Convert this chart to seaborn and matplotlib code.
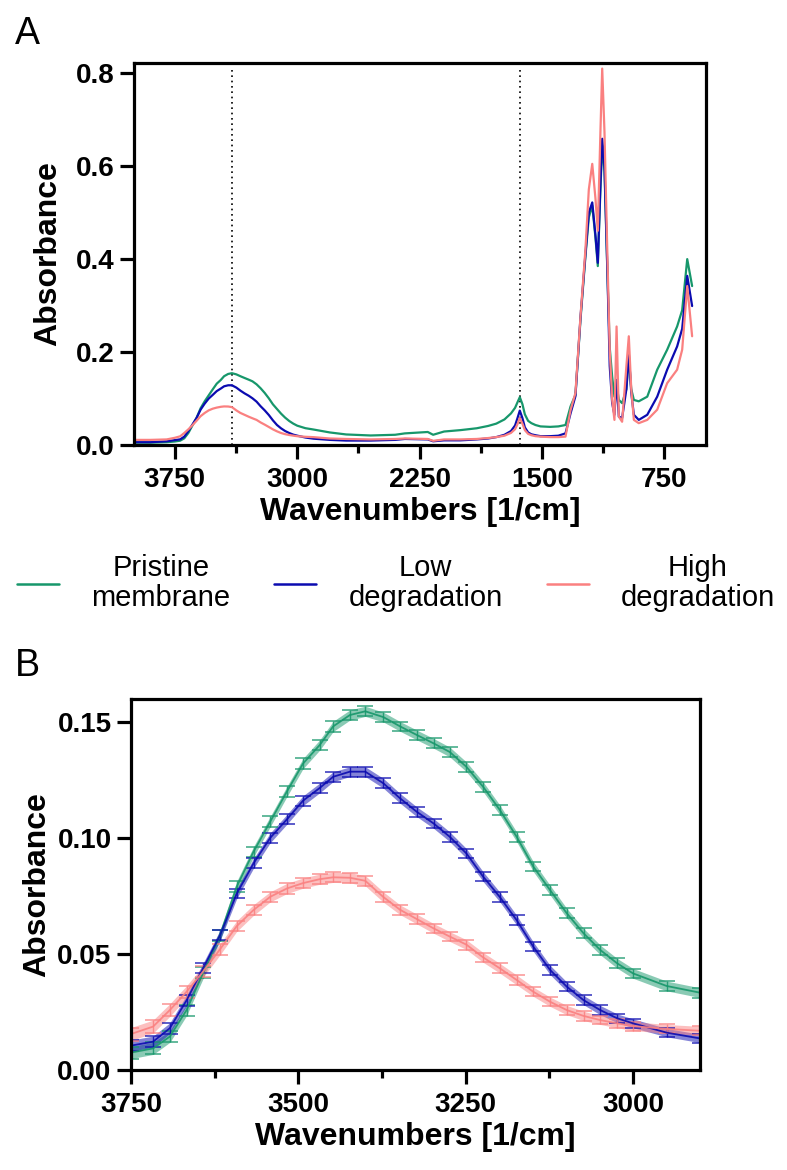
import numpy as np
import pandas as pd
import matplotlib
matplotlib.use("Agg")
import matplotlib.pyplot as plt
import seaborn as sns
from matplotlib.lines import Line2D
from matplotlib.ticker import FixedLocator, FormatStrFormatter
from matplotlib import font_manager

sns.set_style("ticks")
plt.rcParams['font.family'] = ['Liberation Sans', 'DejaVu Sans']
for k in ("text.color", "axes.labelcolor", "xtick.color", "ytick.color", "axes.edgecolor"):
    plt.rcParams[k] = "black"

# ---------------- data ----------------
series_names = ["Pristine\nmembrane", "Low\ndegradation", "High\ndegradation"]
colors = ["#17976b", "#0b0bb0", "#fa8080"]

wavenumber = [4000, 3900, 3800, 3750, 3717, 3692, 3667, 3642, 3617, 3592, 3567, 3542,
              3517, 3493, 3468, 3448, 3423, 3400, 3373, 3348, 3323, 3298, 3274, 3249,
              3224, 3199, 3174, 3149, 3124, 3099, 3074, 3049, 3024, 3000, 2950, 2900,
              2800, 2700, 2550, 2400, 2340, 2200, 2167, 2100, 2000, 1900, 1830, 1780,
              1730, 1690, 1665, 1650, 1636, 1620, 1605, 1585, 1565, 1540, 1509, 1450,
              1400, 1356, 1325, 1295, 1264, 1234, 1213, 1192, 1172, 1158, 1142, 1131,
              1117, 1100, 1085, 1070, 1056, 1043, 1029, 1009, 983, 968, 953, 937,
              907, 855, 794, 733, 672, 641, 610, 580]

pristine = [0.005, 0.005, 0.006, 0.0075, 0.0093, 0.0144, 0.0258, 0.042, 0.058, 0.079, 0.094, 0.107,
            0.120, 0.132, 0.140, 0.148, 0.1529, 0.1545, 0.152, 0.148, 0.1443, 0.1407, 0.137, 0.1306,
            0.122, 0.112, 0.1005, 0.0876, 0.0775, 0.0675, 0.0589, 0.0517, 0.046, 0.0416, 0.0362, 0.0333,
            0.027, 0.0227, 0.0205, 0.022, 0.025, 0.028, 0.022, 0.029, 0.032, 0.036, 0.041, 0.046,
            0.055, 0.068, 0.080, 0.092, 0.103, 0.088, 0.066, 0.052, 0.047, 0.043, 0.040, 0.039,
            0.040, 0.043, 0.083, 0.108, 0.270, 0.405, 0.49, 0.515, 0.445, 0.385, 0.55, 0.645,
            0.59, 0.38, 0.21, 0.147, 0.104, 0.13, 0.097, 0.09, 0.12, 0.19, 0.12, 0.097,
            0.094, 0.104, 0.162, 0.205, 0.255, 0.29, 0.40, 0.342]

low = [0.006, 0.006, 0.008, 0.0105, 0.0122, 0.018, 0.030, 0.044, 0.058, 0.076, 0.089, 0.100,
       0.108, 0.116, 0.1215, 0.1263, 0.1285, 0.1285, 0.1235, 0.117, 0.1112, 0.1062, 0.1005, 0.0933,
       0.0833, 0.0745, 0.0646, 0.0531, 0.0431, 0.0359, 0.0301, 0.0258, 0.0223, 0.0201, 0.0161, 0.0136,
       0.011, 0.0095, 0.0095, 0.011, 0.013, 0.012, 0.008, 0.010, 0.010, 0.012, 0.014, 0.017,
       0.022, 0.030, 0.042, 0.058, 0.074, 0.058, 0.038, 0.027, 0.023, 0.021, 0.019, 0.019,
       0.020, 0.025, 0.068, 0.105, 0.275, 0.41, 0.50, 0.522, 0.45, 0.392, 0.56, 0.659,
       0.60, 0.385, 0.17, 0.09, 0.065, 0.14, 0.061, 0.058, 0.12, 0.198, 0.112, 0.065,
       0.054, 0.065, 0.104, 0.162, 0.212, 0.25, 0.364, 0.299]

high = [0.011, 0.011, 0.012, 0.0155, 0.0187, 0.0258, 0.0337, 0.0425, 0.052, 0.062, 0.0689, 0.0746,
        0.0782, 0.0805, 0.0822, 0.0830, 0.0828, 0.0815, 0.0745, 0.069, 0.0650, 0.0610, 0.0575, 0.054,
        0.0485, 0.0438, 0.0388, 0.0337, 0.0294, 0.0258, 0.0233, 0.0215, 0.0201, 0.0189, 0.0177, 0.0169,
        0.014, 0.013, 0.012, 0.013, 0.014, 0.013, 0.009, 0.012, 0.012, 0.013, 0.015, 0.017,
        0.020, 0.026, 0.034, 0.045, 0.058, 0.046, 0.032, 0.024, 0.021, 0.019, 0.018, 0.017,
        0.017, 0.018, 0.075, 0.112, 0.277, 0.42, 0.55, 0.605, 0.529, 0.461, 0.673, 0.81,
        0.673, 0.42, 0.205, 0.097, 0.054, 0.255, 0.061, 0.05, 0.169, 0.234, 0.12, 0.054,
        0.047, 0.054, 0.076, 0.133, 0.162, 0.205, 0.342, 0.234]

# standard deviations for the zoomed O-H band (wavenumbers 3750 ... 2900)
sd_pristine = [0.0026, 0.0026, 0.0025, 0.0024, 0.0024, 0.0023, 0.0023, 0.0022, 0.0022, 0.0022, 0.0022, 0.0022,
               0.0022, 0.0022, 0.0022, 0.0021, 0.0021, 0.0021, 0.0021, 0.0021, 0.0021, 0.0021, 0.0021, 0.0021,
               0.0021, 0.0021, 0.0021, 0.0021, 0.0021, 0.0021, 0.0021, 0.0021, 0.0021]
sd_low = [0.0024, 0.0024, 0.0023, 0.0023, 0.0022, 0.0022, 0.0021, 0.0021, 0.0021, 0.0021, 0.0021, 0.0021,
          0.0021, 0.0021, 0.0021, 0.0021, 0.0021, 0.0021, 0.0021, 0.0021, 0.0021, 0.0021, 0.0021, 0.0021,
          0.0020, 0.0020, 0.0020, 0.0020, 0.0020, 0.0019, 0.0019, 0.0018, 0.0018]
sd_high = [0.0028, 0.0028, 0.0027, 0.0026, 0.0025, 0.0024, 0.0023, 0.0023, 0.0022, 0.0022, 0.0022, 0.0022,
           0.0022, 0.0022, 0.0022, 0.0022, 0.0021, 0.0021, 0.0021, 0.0021, 0.0021, 0.0021, 0.0021, 0.0021,
           0.0020, 0.0020, 0.0020, 0.0020, 0.0019, 0.0019, 0.0019, 0.0019, 0.0019]

marker_wavenumbers = [3400, 1635]

# ---------------- figure ----------------
W, H = 787, 1170
fig = plt.figure(figsize=(W / 100, H / 100), dpi=100)
axA = fig.add_axes([134 / W, 1 - 445 / H, 572 / W, 382 / H])
axB = fig.add_axes([131 / W, 1 - 1070 / H, 569 / W, 371 / H])

values = [pristine, low, high]
sds = [sd_pristine, sd_low, sd_high]
frames = []
for name, vals in zip(series_names, values):
    frames.append(pd.DataFrame({"wn": wavenumber, "abs": vals, "series": name}))
df = pd.concat(frames, ignore_index=True)
pal = dict(zip(series_names, colors))

# Panel A
sns.lineplot(data=df, x="wn", y="abs", hue="series", palette=pal, ax=axA,
             estimator=None, legend=False, linewidth=1.6)
for xv in marker_wavenumbers:
    axA.axvline(xv, ymin=0, ymax=0.985, color="black", linestyle=(0, (1, 2.2)), linewidth=1.2, zorder=0)
axA.set_xlim(4000, 495)
axA.set_ylim(0, 0.822)
axA.xaxis.set_major_locator(FixedLocator([3750, 3000, 2250, 1500, 750]))
axA.xaxis.set_minor_locator(FixedLocator([3375, 2625, 1875, 1125]))
axA.yaxis.set_major_locator(FixedLocator([0.0, 0.2, 0.4, 0.6, 0.8]))
axA.yaxis.set_major_formatter(FormatStrFormatter("%.1f"))

# Panel B
dfb = df[(df["wn"] <= 3750) & (df["wn"] >= 2900)]
for name, c, sd in zip(series_names, colors, sds):
    sub = dfb[dfb["series"] == name]
    x = sub["wn"].to_numpy()
    y = sub["abs"].to_numpy()
    s = np.array(sd)
    axB.fill_between(x, y - s, y + s, color=c, alpha=0.5, linewidth=0)
    axB.errorbar(x, y, yerr=s, fmt="none", ecolor=c, elinewidth=1.0,
                 capsize=6, capthick=1.1, alpha=0.85, clip_on=True)
sns.lineplot(data=dfb, x="wn", y="abs", hue="series", palette=pal, ax=axB,
             estimator=None, legend=False, linewidth=1.3, alpha=0.9)
axB.set_xlim(3750, 2900)
axB.set_ylim(0, 0.1598)
axB.xaxis.set_major_locator(FixedLocator([3750, 3500, 3250, 3000]))
axB.xaxis.set_minor_locator(FixedLocator([3625, 3375, 3125]))
axB.yaxis.set_major_locator(FixedLocator([0.0, 0.05, 0.10, 0.15]))
axB.yaxis.set_major_formatter(FormatStrFormatter("%.2f"))

for ax, lp in ((axA, 9), (axB, 4)):
    for sp in ax.spines.values():
        sp.set_linewidth(2.3)
        sp.set_color("black")
    ax.tick_params(axis="both", which="major", direction="out", length=10, width=2.3,
                   labelsize=20, color="black", labelcolor="black")
    ax.tick_params(axis="x", which="major", pad=6)
    ax.tick_params(axis="y", which="major", pad=4)
    ax.tick_params(axis="x", which="minor", direction="out", length=6, width=2.3, color="black")
    for lab in ax.get_xticklabels() + ax.get_yticklabels():
        lab.set_fontweight("bold")
    ax.set_xlabel("Wavenumbers [1/cm]", fontsize=23, fontweight="bold", labelpad=3, color="black")
    ax.set_ylabel("Absorbance", fontsize=23, fontweight="bold", labelpad=lp, color="black")
    ax.grid(False)

fig.text(15 / W, 1 - 34 / H, "A", fontsize=27, ha="left", va="center", color="black")
fig.text(15 / W, 1 - 666 / H, "B", fontsize=27, ha="left", va="center", color="black")

# legend font: a narrow sans if available
available = {f.name for f in font_manager.fontManager.ttflist}
if "Liberation Sans Narrow" in available:
    leg_family, leg_size = ["Liberation Sans Narrow", "DejaVu Sans"], 24
else:
    leg_family, leg_size = ["Liberation Sans", "DejaVu Sans"], 21

handles = [Line2D([], [], color=c, linewidth=1.8) for c in colors]
leg = fig.legend(handles, series_names, loc="center", bbox_to_anchor=(396 / W, 1 - 583 / H),
                 ncol=3, frameon=False, prop={"family": leg_family, "size": leg_size},
                 handlelength=1.45, handletextpad=1.1,
                 columnspacing=1.5, borderpad=0, borderaxespad=0)
for t in leg.get_texts():
    t.set_multialignment("center")
    t.set_linespacing(1.12)
    t.set_color("black")

fig.savefig("out.png", dpi=100)
